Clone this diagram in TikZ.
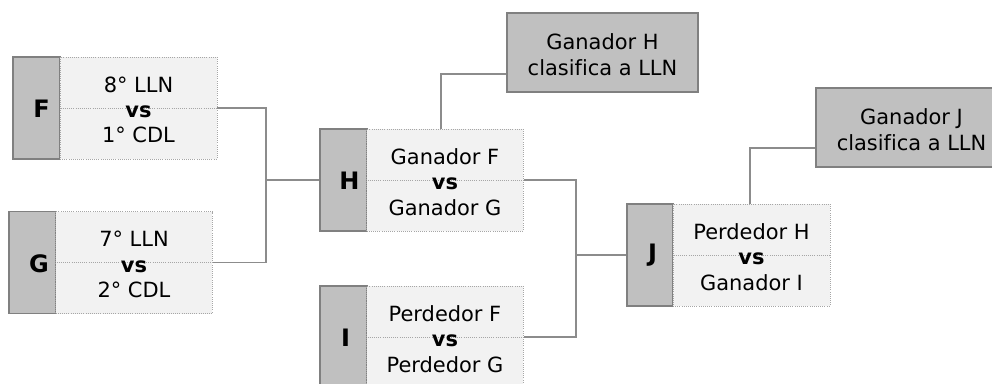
\documentclass[tikz,border=0pt]{standalone}
\usepackage{fontspec}
\setmainfont[Ligatures=NoCommon]{DejaVu Sans}
\usetikzlibrary{calc}
\definecolor{lblfill}{HTML}{C0C0C0}
\definecolor{lbldraw}{HTML}{808080}
\definecolor{boxfill}{HTML}{F2F2F2}
\definecolor{boxdraw}{HTML}{A6A6A6}
\definecolor{conncol}{HTML}{8C8C8C}
\tikzset{
  lblbox/.style={draw=lbldraw, fill=lblfill, line width=0.9pt, minimum width=35.25pt, minimum height=76.5pt, inner sep=0pt},
  matchbox/.style={draw=boxdraw, fill=boxfill, densely dotted, line width=0.6pt, minimum width=117.5pt, minimum height=76.5pt, inner sep=0pt},
  midline/.style={draw=boxdraw, densely dotted, line width=0.6pt},
  matchtxt/.style={align=center, font=\fontsize{15.7}{18.9}\selectfont, inner sep=0pt},
  letter/.style={font=\fontsize{18}{21}\selectfont\bfseries, inner sep=0pt},
  resbox/.style={draw=lbldraw, fill=lblfill, line width=0.9pt, minimum width=143.25pt, minimum height=59.25pt, inner sep=0pt},
  restxt/.style={align=center, font=\fontsize{15.7}{19.5}\selectfont, inner sep=0pt},
  conn/.style={draw=conncol, line width=1pt}
}
\begin{document}
\begin{tikzpicture}[x=0.75pt, y=-0.75pt]
\useasboundingbox (0,0) rectangle (992,383);
\clip (0,0) rectangle (992,383);
% F
\node[lblbox] (Fl) at (36.5,108) {};
\node[matchbox, minimum width=117.75pt] (Fc) at (138.5,108) {};
\draw[midline] (Fl.east) -- (Fc.east);
\node[letter] (Ft) at (41.5,109) {F};
\node[matchtxt] (Fx) at (138.5,110) {8° LLN\\\textbf{vs}\\1° CDL};
% G
\node[lblbox] (Gl) at (32.5,262.5) {};
\node[matchbox] (Gc) at (134,262.5) {};
\draw[midline] (Gl.east) -- (Gc.east);
\node[letter] (Gt) at (39,263.5) {G};
\node[matchtxt] (Gx) at (134,264.5) {7° LLN\\\textbf{vs}\\2° CDL};
% H
\node[lblbox] (Hl) at (343.5,180) {};
\node[matchbox] (Hc) at (445,180) {};
\draw[midline] (Hl.east) -- (Hc.east);
\node[letter] (Ht) at (349.5,180.5) {H};
\node[matchtxt] (Hx) at (445,182) {Ganador F\\\textbf{vs}\\Ganador G};
% I
\node[lblbox] (Il) at (343.5,337) {};
\node[matchbox] (Ic) at (445,337) {};
\draw[midline] (Il.east) -- (Ic.east);
\node[letter] (It) at (345.5,337.5) {I};
\node[matchtxt] (Ix) at (445,339) {Perdedor F\\\textbf{vs}\\Perdedor G};
% J
\node[lblbox, minimum width=34.5pt] (Jl) at (650,255) {};
\node[matchbox, minimum width=117.75pt] (Jc) at (751.5,255) {};
\draw[midline] (Jl.east) -- (Jc.east);
\node[letter] (Jt) at (652.5,255.5) {J};
\node[matchtxt] (Jx) at (751.5,257) {Perdedor H\\\textbf{vs}\\Ganador I};
% result boxes
\node[resbox] (GH) at (602.5,52.5) {};
\node[restxt] (GHx) at (602.5,55) {Ganador H\\clasifica a LLN};
\node[resbox] (GJ) at (911.5,127.5) {};
\node[restxt] (GJx) at (911.5,130) {Ganador J\\clasifica a LLN};
% connectors
\coordinate (jFG) at (266,0);
\coordinate (jHI) at (576,0);
\draw[conn] (Fc.east) -| (jFG |- Gc.east) -- (Gc.east);
\draw[conn] (jFG |- Hl.west) -- (Hl.west);
\draw[conn] (Hc.east) -| (jHI |- Ic.east) -- (Ic.east);
\draw[conn] (jHI |- Jl.west) -- (Jl.west);
\draw[conn] ($(Hc.north)+(-4,0)$) |- ($(GH.west)+(0,21.5)$);
\draw[conn] ($(Jc.north)+(-1.5,0)$) |- ($(GJ.west)+(0,20.5)$);
\end{tikzpicture}
\end{document}
